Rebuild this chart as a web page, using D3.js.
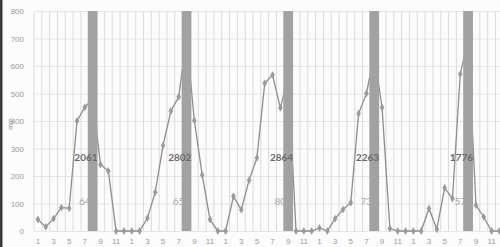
<!DOCTYPE html>
<html>
<head>
<meta charset="utf-8">
<script src="https://cdn.jsdelivr.net/npm/d3@7"></script>
<style>
  body { margin: 0; background: #fcfcfc; }
  svg { display: block; font-family: Lato, "Liberation Sans", sans-serif; }
</style>
</head>
<body>
<script>
// month of each point, five years of monthly rainfall
var monthLabels = [1,2,3,4,5,6,7,8,9,10,11,12, 1,2,3,4,5,6,7,8,9,10,11,12,
                   1,2,3,4,5,6,7,8,9,10,11,12, 1,2,3,4,5,6,7,8,9,10,11,12,
                   1,2,3,4,5,6,7,8,9,10,11,12];
var rainfall = [42, 15, 45, 85, 83, 400, 450, 481, 242, 218, 0, 0,
                0, 0, 47, 141, 311, 436, 488, 700, 402, 204, 42, 0,
                0, 126, 77, 185, 266, 537, 567, 448, 560, 0, 0, 0,
                11, 0, 45, 78, 103, 427, 500, 641, 449, 9, 0, 0,
                0, 0, 82, 6, 157, 118, 571, 697, 94, 51, 0, 0];
// grey marker bars (index into the months above) and their notes
var barIndex = [7, 19, 32, 43, 55];
var barValue = [800, 800, 800, 800, 800];
var annualTotal = [2061, 2802, 2864, 2263, 1776];
var rainDays = [64, 65, 80, 73, 57];
var yTicks = [0, 100, 200, 300, 400, 500, 600, 700, 800];

var width = 500, height = 247;
var plotLeft = 34, plotTop = 11, plotBottom = 231, plotRight = 503.3;

var svg = d3.select('body').append('svg')
  .attr('width', width)
  .attr('height', height);

var x = d3.scaleBand()
  .domain(d3.range(rainfall.length))
  .range([plotLeft, plotRight])
  .padding(0);
var bw = x.bandwidth();
var cx = function (i) { return x(i) + bw / 2; };

var y = d3.scaleLinear().domain([0, 800]).range([plotBottom, plotTop]);

// horizontal gridlines + y labels
svg.append('g')
  .attr('transform', 'translate(' + plotLeft + ',0)')
  .call(d3.axisLeft(y).tickValues(yTicks).tickSize(-(plotRight - plotLeft)).tickPadding(10))
  .call(function (g) {
    g.select('.domain').remove();
    g.selectAll('line').attr('stroke', '#e6e6e6');
    g.selectAll('text').attr('fill', '#9a9a9a').style('font-size', '8px');
  });

// vertical gridlines on category boundaries
svg.append('g').selectAll('line')
  .data(d3.range(rainfall.length + 1))
  .enter().append('line')
  .attr('x1', function (i) { return plotLeft + i * bw; })
  .attr('x2', function (i) { return plotLeft + i * bw; })
  .attr('y1', plotTop)
  .attr('y2', plotBottom)
  .attr('stroke', '#dcdcdc')
  .attr('stroke-width', 1);

// x labels, odd months only
svg.append('g')
  .attr('transform', 'translate(0,' + plotBottom + ')')
  .call(d3.axisBottom(x)
    .tickValues(d3.range(rainfall.length).filter(function (i) { return monthLabels[i] % 2 == 1; }))
    .tickFormat(function (i) { return monthLabels[i]; })
    .tickSize(0).tickPadding(7))
  .call(function (g) {
    g.select('.domain').remove();
    g.selectAll('text').attr('fill', '#9a9a9a').style('font-size', '8px');
  });

// y title
svg.append('text')
  .attr('transform', 'translate(13,124) rotate(-90)')
  .attr('text-anchor', 'middle')
  .attr('fill', '#8a8a8a')
  .style('font-size', '7px')
  .text('mm');

// rainfall line
var line = d3.line()
  .x(function (d, i) { return cx(i); })
  .y(function (d) { return y(d); });

svg.append('path')
  .datum(rainfall)
  .attr('d', line)
  .attr('fill', 'none')
  .attr('stroke', '#8e8e8e')
  .attr('stroke-width', 1.3);

svg.append('g').selectAll('path')
  .data(rainfall)
  .enter().append('path')
  .attr('d', d3.symbol().type(d3.symbolDiamond).size(14))
  .attr('transform', function (d, i) { return 'translate(' + cx(i) + ',' + y(d) + ')'; })
  .attr('fill', '#9a9a9a')
  .attr('stroke', '#9a9a9a')
  .attr('stroke-width', 0.5);

// small notes (sit behind the bars)
svg.append('g').selectAll('text')
  .data(rainDays)
  .enter().append('text')
  .attr('x', function (d, i) { return cx(barIndex[i]) + bw * 0.625 - 7; })
  .attr('y', y(110) + 4)
  .attr('text-anchor', 'end')
  .attr('fill', '#a8a8a8')
  .style('font-size', '10px')
  .text(function (d) { return d; });

// grey bars
svg.append('g').selectAll('rect')
  .data(barValue)
  .enter().append('rect')
  .attr('x', function (d, i) { return cx(barIndex[i]) - bw * 0.625; })
  .attr('y', function (d) { return y(d); })
  .attr('width', bw * 1.25)
  .attr('height', function (d) { return y(0) - y(d); })
  .attr('fill', '#a2a2a2');

// annual totals
svg.append('g').selectAll('text')
  .data(annualTotal)
  .enter().append('text')
  .attr('x', function (d, i) { return cx(barIndex[i]) + bw * 0.625; })
  .attr('y', y(270) + 4)
  .attr('text-anchor', 'end')
  .attr('fill', '#6a6a6a')
  .style('font-size', '10px')
  .style('font-weight', 'bold')
  .text(function (d) { return d; });

// scanned page edge
svg.append('rect')
  .attr('x', 0).attr('y', 0)
  .attr('width', 2.5).attr('height', height)
  .attr('fill', '#3a3a3a');
</script>
</body>
</html>
